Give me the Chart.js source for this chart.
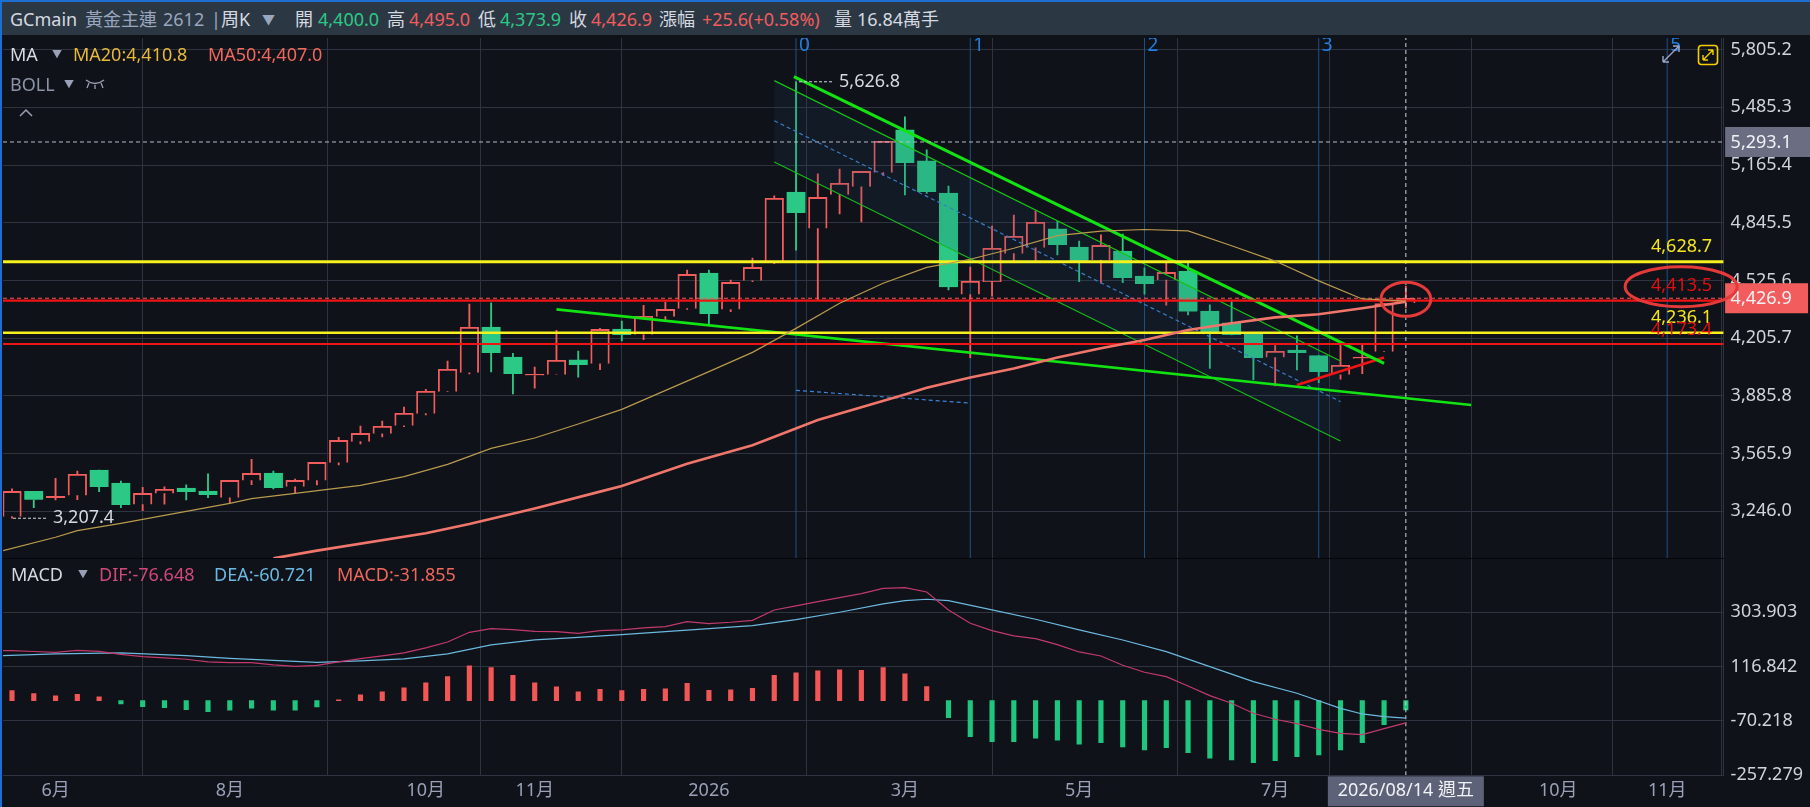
<!DOCTYPE html>
<html>
<head>
<meta charset="utf-8">
<title>GCmain</title>
<script src="https://cdn.jsdelivr.net/npm/chart.js@4/dist/chart.umd.js"></script>
<style>
html, body { margin: 0; padding: 0; width: 1810px; height: 807px; overflow: hidden; background: #0f1218; }
body { position: relative; font-family: "Noto Sans", "Noto Sans CJK TC", sans-serif; }
canvas { position: absolute; left: 0; }
#edge { position: absolute; left: 0; top: 0; width: 1810px; height: 807px; box-sizing: border-box; border-left: 2px solid #1c6fd0; border-top: 2px solid #1c6fd0; pointer-events: none; }
#split { position: absolute; left: 0; top: 558px; width: 1724px; height: 1px; background: #05070a; }
#header { position: absolute; left: 0; top: 0; width: 1810px; height: 35px; background: #2c3744; color: #d5d9e0; font-size: 18px; white-space: nowrap; }
.t { position: absolute; line-height: 24px; white-space: nowrap; }
#header .t { top: 7px; }
.gry { color: #9aa6bd; }
.grn { color: #2bc985; }
.red { color: #f25c5c; }
.legend { position: absolute; left: 0; width: 600px; height: 24px; font-size: 18px; color: #d5d9e0; }
.tri { font-size: 10px; color: #9aa0b8; }
</style>
</head>
<body>
<canvas id="priceChart" width="1810" height="520" style="top:38px"></canvas>
<canvas id="macdChart" width="1810" height="249" style="top:558px"></canvas>
<div id="split"></div>
<div id="header">
  <span class="t" style="left:10px">GCmain</span>
  <span class="t gry" style="left:85px">黃金主連</span>
  <span class="t gry" style="left:163px">2612</span>
  <span class="t gry" style="left:211px">|</span>
  <span class="t" style="left:221px">周K</span>
  <span class="t gry" style="left:262px;font-size:13px">▼</span>
  <span class="t" style="left:295px">開</span><span class="t grn" style="left:318px">4,400.0</span>
  <span class="t" style="left:387px">高</span><span class="t red" style="left:409px">4,495.0</span>
  <span class="t" style="left:478px">低</span><span class="t grn" style="left:500px">4,373.9</span>
  <span class="t" style="left:569px">收</span><span class="t red" style="left:591px">4,426.9</span>
  <span class="t" style="left:659px">漲幅</span><span class="t red" style="left:702px">+25.6(+0.58%)</span>
  <span class="t" style="left:834px">量</span><span class="t" style="left:857px">16.84萬手</span>
</div>
<div class="legend" style="top:42px">
  <span class="t" style="left:10px">MA</span><span class="t tri" style="left:52px">▼</span>
  <span class="t" style="left:73px;color:#e6b93c">MA20:4,410.8</span><span class="t" style="left:208px;color:#f0675c">MA50:4,407.0</span>
</div>
<div class="legend" style="top:72px;color:#8d94a8">
  <span class="t" style="left:10px">BOLL</span><span class="t tri" style="left:64px">▼</span>
  <svg width="20" height="12" viewBox="0 0 20 12" style="position:absolute;left:85px;top:6px"><path d="M1 2 Q10 9 19 2 M4 5 L2 10 M10 7 V11 M16 5 L18 10" stroke="#9aa0b8" fill="none" stroke-width="1.3"/></svg>
</div>
<svg style="position:absolute;left:18px;top:108px" width="16" height="10"><path d="M2 8 L8 2 L14 8" stroke="#9aa0b8" fill="none" stroke-width="1.5"/></svg>
<svg style="position:absolute;left:1661px;top:44px" width="20" height="20"><path d="M2 18 L18 2 M18 2 H12 M18 2 V8 M2 18 H8 M2 18 V12" stroke="#9aa6c8" fill="none" stroke-width="1.4"/></svg>
<svg style="position:absolute;left:1697px;top:44px" width="22" height="22"><rect x="1.5" y="1.5" width="19" height="19" rx="3" stroke="#f5d000" fill="none" stroke-width="1.6"/><path d="M6 16 L16 6 M16 6 H11 M16 6 V11 M6 16 H11 M6 16 V11" stroke="#f5d000" fill="none" stroke-width="1.4"/></svg>
<div class="legend" style="top:562px">
  <span class="t" style="left:11px">MACD</span><span class="t tri" style="left:78px">▼</span>
  <span class="t" style="left:99px;color:#d1487a">DIF:-76.648</span><span class="t" style="left:214px;color:#6cb8e0">DEA:-60.721</span><span class="t" style="left:337px;color:#f0675c">MACD:-31.855</span>
</div>
<div id="edge"></div>
<script>
// Weekly candles (index 0 = first candle on the left)
const opens = [3216,3356,3322,3333,3475,3403,3283,3344,3375,3358,3321,3416,3458,3382,3416,3515,3632,3676,3720,3787,3909,4014,4267,4101,3998,4003,4085,4064,4256,4225,4325,4369,4567,4364,4524,4630,5016,4813,5001,5045,5123,5360,5188,5010,4447,4519,4674,4707,4811,4711,4639,4689,4550,4528,4578,4356,4290,4231,4098,4140,4109,4003,4092,4131,4400];
const closes = [3356,3310,3329,3451,3381,3281,3345,3368,3353,3336,3417,3456,3375,3417,3517,3639,3678,3717,3789,3911,4033,4266,4123,4007,4005,4083,4057,4254,4223,4327,4365,4559,4340,4515,4598,4981,4899,4986,5064,5130,5297,5177,5016,4489,4521,4704,4770,4848,4722,4630,4720,4539,4506,4570,4353,4238,4223,4096,4133,4123,4018,4055,4101,4397,4426.9];
const highs = [3370,3356,3429,3469,3475,3414,3379,3381,3392,3453,3417,3534,3469,3425,3517,3656,3719,3746,3824,3922,4079,4395,4402,4122,4046,4249,4134,4260,4301,4388,4406,4583,4583,4528,4650,4994,5626.8,5116,5143,5130,5297,5432,5249,5049,4600,4827,4888,4912,4853,4744,4778,4783,4595,4626,4620,4390,4408,4231,4164,4218,4109,4171,4177,4397,4495];
const lows = [3207.4,3266,3309,3310,3355,3266,3249,3286,3309,3321,3294,3394,3370,3345,3392,3503,3619,3658,3715,3780,3909,4007,4018,3896,3929,4003,3990,4031,4190,4197,4306,4365,4275,4353,4519,4619,4694,4417,4894,4850,5108,4999,5008,4473,4098,4439,4630,4630,4667,4519,4510,4513,4450,4389,4334,4038,4223,3974,3941,4029,3959,3979,4009,4131,4373.9];

const ma20Idx = [-0.41,2,3,5,10,11,13,16,18,20,22,24,26,28,32,34,36,38,40,42,44,46,48,50,52,54,56,58,60,62,64];
const ma20Vals = [3028,3102,3139,3179,3290,3316,3345,3390,3438,3506,3595,3652,3730,3811,4020,4127,4260,4399,4510,4598,4643,4704,4774,4799,4808,4800,4718,4633,4523,4423,4410.8];
const ma50Idx = [12,14,19,21,24,27,28,31,34,37,41,42,44,46,48,50,52,54,56,58,60,62,64];
const ma50Vals = [2985,3028,3124,3175,3262,3355,3386,3510,3612,3752,3894,3931,3987,4038,4098,4150,4195,4251,4288,4321,4338,4371,4407];

const priceTicks = [5805.2,5485.3,5165.4,4845.5,4525.6,4205.7,3885.8,3565.9,3246.0];
const macdTicks = [303.903,116.842,-70.218,-257.279];

const monthIdx = [2,10,19,24,32,41,49,58,63,71,76];
const monthLabels = ['6月','8月','10月','11月','2026','3月','5月','7月','','10月','11月'];
const fibIdx = [36,44,52,60,76];
const fibLabels = ['0','1','2','3','5'];

// MACD panel
const macdHist = [34.4,24.1,16,21.8,12.6,-11.5,-20.7,-24.1,-31,-37.9,-33.3,-26.4,-33.3,-33.3,-21.8,2.5,19.5,29.8,43.6,60.8,82.6,119.4,113.6,87.2,60.8,47.1,29.8,39,34.4,39,40.2,59.7,35.6,36.7,42.5,87.2,95.3,102.2,105.6,104.4,113.6,91.8,48.2,-58.5,-124,-141.2,-141.2,-129.7,-136.6,-150.4,-144.6,-159.5,-169.9,-161.8,-179,-198.6,-204.3,-213.5,-206.6,-192.8,-187.1,-169.9,-144.6,-82.6,-31.855];
const difIdx = [-0.41,0,1,2,3,4,5,6,7,8,9,10,11,12,13,14,15,16,17,18,19,20,21,22,23,24,25,26,27,28,29,30,31,32,33,34,35,36,37,38,39,40,41,42,43,44,45,46,47,48,49,50,51,52,53,54,55,56,57,58,59,60,61,62,63,64];
const dif = [172,172,169,166.3,173.1,169.7,159.4,151,147,142.2,133,131,130.7,122.6,118.1,121.5,133,144.4,153.6,164,181.2,201.8,235.1,247.8,244.3,238.6,237.4,231.7,240.9,243.2,250,254.6,271.9,265,269.6,276.4,312,325.8,340.7,354.5,368.3,386.6,389,374,312,266.1,240.9,222.5,213.3,192.6,167.4,153.6,121.5,97.4,82.5,50.3,17,-9.4,-43.8,-64.4,-79.4,-98.9,-112.7,-117.2,-96.6,-76.648];
const deaIdx = [-0.41,2,5,8,10,12,14,16,18,20,22,24,26,28,30,32,34,36,38,40,41,42,43,45,47,49,51,53,55,57,59,61,62,63,64];
const dea = [154.8,160.5,164,154.8,145.6,138.7,131.8,136.4,143.3,160.5,191.5,208.7,217.9,227.1,237.4,247.8,258.1,278.7,304,332.7,344.2,348.8,344.2,312,279.9,243.2,208.7,168.6,116.9,65.3,25.1,-26.6,-46.1,-55.3,-60.721];

// Drawn lines on the price panel: [x index, price] at both ends
const trendDown = [[35.9,5655],[63,4066]];
const trendFlat = [[25,4365],[67,3835]];
const channelTop = [[35,5633],[61,4079]];
const channelMid = [[35,5411],[61,3854]];
const channelBot = [[35,5182],[61,3636]];
const fibBase = [[36,3916],[44,3846]];
const redRise = [[59,3946],[63,4099]];

const levelYellowHi = 4628.7;
const levelYellowLo = 4236.1;
const levelRedHi = 4413.5;
const levelRedLo = 4173.4;
const lastPrice = 4426.9;
const markPrice = 5293.1;
const topPrice = 5626.8;
const bottomPrice = 3207.4;

const RED = '#f25c5c';
const GREEN = '#2bc985';
const GRID = '#2d3440';
const AXIS_FONT = '"Noto Sans", "Noto Sans CJK TC", sans-serif';
const X_MIN = -0.413, X_MAX = 78.59, LAST = 64;
const fmt1 = v => v.toLocaleString('en-US', {minimumFractionDigits: 1, maximumFractionDigits: 1});

Chart.defaults.animation = false;
Chart.defaults.responsive = false;
Chart.defaults.devicePixelRatio = 1;
Chart.defaults.font.family = AXIS_FONT;
Chart.defaults.plugins.legend.display = false;
Chart.defaults.plugins.tooltip.enabled = false;

const toPts = arr => arr.map(p => ({x: p[0], y: p[1]}));
const zipPts = (xs, ys) => xs.map((v, i) => ({x: v, y: ys[i]}));
const lineSet = (pts, color, width, extra) => Object.assign({type: 'line', data: pts, borderColor: color, borderWidth: width, pointRadius: 0, tension: 0, order: 1}, extra || {});
const hline = (v, color, width, extra) => lineSet([{x: X_MIN, y: v}, {x: X_MAX, y: v}], color, width, extra);

const upCandle = i => closes[i] >= opens[i];
const idx = opens.map((_, i) => i);
const barSet = (pts, colorFn, thick, extra) => Object.assign({type: 'bar', data: pts, grouped: false, barThickness: thick, backgroundColor: colorFn, order: 10}, extra || {});

const priceMin = 2987.1, priceMax = 5869.4;

// price panel texts and tags, placed through the scales
const priceLabels = {
  id: 'priceLabels',
  afterDraw(chart) {
    const {ctx, scales: {x, y}, chartArea: a} = chart;
    ctx.save();
    ctx.textBaseline = 'middle';
    // fibonacci numbers
    ctx.fillStyle = '#1f7fe0';
    ctx.font = '19px ' + AXIS_FONT;
    fibIdx.forEach((f, i) => ctx.fillText(fibLabels[i], x.getPixelForValue(f) + 3, 8));
    ctx.font = '18px ' + AXIS_FONT;
    // high / low marks
    ctx.fillStyle = '#d5d9e0';
    ctx.strokeStyle = '#d5d9e0';
    ctx.lineWidth = 1;
    ctx.setLineDash([3, 2]);
    const hx = x.getPixelForValue(36), hy = y.getPixelForValue(topPrice);
    ctx.beginPath(); ctx.moveTo(hx + 3, hy); ctx.lineTo(hx + 36, hy); ctx.stroke();
    ctx.fillText(fmt1(topPrice), hx + 43, hy);
    const lx = x.getPixelForValue(0), ly = y.getPixelForValue(bottomPrice);
    ctx.beginPath(); ctx.moveTo(lx + 1, ly); ctx.lineTo(lx + 35, ly); ctx.stroke();
    ctx.fillText(fmt1(bottomPrice), lx + 41, ly);
    ctx.setLineDash([]);
    // level labels
    const lvl = [[levelYellowHi, '#f5e61e'], [levelRedHi, '#e01010'], [levelYellowLo, '#f5e61e'], [levelRedLo, '#e01010']];
    lvl.forEach(l => {
      ctx.fillStyle = l[1];
      ctx.fillText(fmt1(l[0]), 1651, y.getPixelForValue(l[0]) - 14.5);
    });
    // price tags on the axis
    const tag = (v, bg, w) => {
      const py = y.getPixelForValue(v);
      ctx.fillStyle = bg;
      ctx.fillRect(a.right + 1.5, py - 15, w, 30);
      ctx.fillStyle = '#f0f2f5';
      ctx.fillText(fmt1(v), a.right + 7, py + 1);
    };
    tag(markPrice, '#6b6e82', 85);
    tag(lastPrice, RED, 83);
    // hand drawn rings
    ctx.strokeStyle = '#e53a3a';
    ctx.lineWidth = 3;
    ctx.beginPath();
    ctx.ellipse(x.getPixelForValue(LAST), y.getPixelForValue(lastPrice) + 1, 25, 17, 0, 0, Math.PI * 2);
    ctx.stroke();
    ctx.beginPath();
    ctx.ellipse(x.getPixelForValue(76.64), y.getPixelForValue(levelRedHi) - 14, 56, 20, 0, 0, Math.PI * 2);
    ctx.stroke();
    ctx.restore();
  }
};

// fixed axis sizes so both panels share the same plot edges
const fixRight = s => { s.width = 86.4; s.paddingTop = 0; s.paddingBottom = 0; };
const fixBottom = h => s => { s.height = h; s.paddingLeft = 0; s.paddingRight = 0; };

const priceDatasets = [
  // channel fill between upper and lower rails
  lineSet(toPts(channelTop), '#16c216', 1.2, {order: 2, fill: {target: '+1'}, backgroundColor: 'rgba(40,75,120,0.14)'}),
  lineSet(toPts(channelBot), '#16c216', 1.2, {order: 2}),
  lineSet(toPts(channelMid), '#3a85d8', 1.2, {order: 2, borderDash: [4, 3]}),
  lineSet(toPts(fibBase), '#3a85d8', 1.2, {order: 2, borderDash: [4, 3]}),
  // fibonacci time lines
  ...fibIdx.map(f => lineSet([{x: f, y: priceMin}, {x: f, y: priceMax}], '#1e5288', 1, {order: 12})),
  // candles
  barSet(idx.map(i => ({x: i, y: [Math.max(opens[i], closes[i]), highs[i]]})), c => upCandle(c.dataIndex) ? RED : GREEN, 1.2),
  barSet(idx.map(i => ({x: i, y: [lows[i], Math.min(opens[i], closes[i])]})), c => upCandle(c.dataIndex) ? RED : GREEN, 1.2),
  barSet(idx.map(i => ({x: i, y: [opens[i], closes[i]]})), c => upCandle(c.dataIndex) ? 'rgba(0,0,0,0)' : GREEN, 18.6, {
    borderColor: c => upCandle(c.dataIndex) ? RED : GREEN, borderWidth: 1.2
  }),
  // moving averages
  lineSet(zipPts(ma20Idx, ma20Vals), '#b99a4e', 1.2),
  lineSet(zipPts(ma50Idx, ma50Vals), '#f0766c', 2.6),
  // horizontal levels
  hline(markPrice, '#b8bcc6', 1, {borderDash: [4, 3]}),
  hline(levelYellowHi, '#f5f01e', 3),
  hline(levelYellowLo, '#f5f01e', 2.5),
  hline(levelRedHi, '#f01414', 2.2),
  hline(levelRedLo, '#f01414', 1.8),
  hline(lastPrice, '#f25c5c', 1, {borderDash: [4, 3]}),
  // trend lines
  lineSet(toPts(trendDown), '#12e312', 3),
  lineSet(toPts(trendFlat), '#12e312', 2.6),
  lineSet(toPts(redRise), '#f01414', 2.6),
  // crosshair
  lineSet([{x: LAST, y: priceMin}, {x: LAST, y: priceMax}], '#cfd3da', 1, {borderDash: [4, 3]})
];

new Chart(document.getElementById('priceChart'), {
  type: 'bar',
  data: {datasets: priceDatasets},
  options: {
    layout: {padding: {left: 3, right: 0, top: 0, bottom: 0}},
    plugins: {filler: {propagate: false}},
    scales: {
      x: {
        type: 'linear', min: X_MIN, max: X_MAX, offset: false,
        border: {display: false},
        grid: {color: GRID, drawTicks: false, lineWidth: 1},
        ticks: {display: false, autoSkip: false},
        afterBuildTicks: s => { s.ticks = monthIdx.map(v => ({value: v})); },
        afterFit: fixBottom(0)
      },
      y: {
        position: 'right', min: priceMin, max: priceMax,
        border: {color: GRID},
        grid: {color: GRID, drawTicks: false, lineWidth: 1},
        ticks: {color: '#d0d4da', font: {size: 18}, padding: 7, autoSkip: false, callback: v => fmt1(v)},
        afterBuildTicks: s => { s.ticks = priceTicks.map(v => ({value: v})); },
        afterFit: fixRight
      }
    }
  },
  plugins: [priceLabels]
});

// date tag under the crosshair
const dateTag = {
  id: 'dateTag',
  afterDraw(chart) {
    const {ctx, scales: {x}, chartArea: a} = chart;
    const px = x.getPixelForValue(LAST);
    ctx.save();
    ctx.fillStyle = '#5e6278';
    ctx.fillRect(px - 78, a.bottom + 1, 156, 30);
    ctx.fillStyle = '#f0f2f5';
    ctx.font = '18px ' + AXIS_FONT;
    ctx.textAlign = 'center';
    ctx.textBaseline = 'middle';
    ctx.fillText('2026/08/14 週五', px, a.bottom + 16);
    ctx.restore();
  }
};

new Chart(document.getElementById('macdChart'), {
  type: 'bar',
  data: {datasets: [
    barSet(idx.map(i => ({x: i, y: [0, macdHist[i]]})), c => macdHist[c.dataIndex] >= 0 ? '#f25656' : '#1fc77e', 4.5),
    lineSet(zipPts(difIdx, dif), '#c23a6c', 1.2),
    lineSet(zipPts(deaIdx, dea), '#6cb8e0', 1.2),
    lineSet([{x: LAST, y: -257.279}, {x: LAST, y: 490.9}], '#cfd3da', 1, {borderDash: [4, 3]})
  ]},
  options: {
    layout: {padding: {left: 3, right: 0, top: 0, bottom: 0}},
    scales: {
      x: {
        type: 'linear', min: X_MIN, max: X_MAX, offset: false,
        border: {color: GRID},
        grid: {color: GRID, drawTicks: false, lineWidth: 1},
        ticks: {color: '#9aa0b8', font: {size: 18}, padding: 5, autoSkip: false, maxRotation: 0,
          callback: v => monthLabels[monthIdx.indexOf(v)]},
        afterBuildTicks: s => { s.ticks = monthIdx.map(v => ({value: v})); },
        afterFit: fixBottom(31.7)
      },
      y: {
        position: 'right', min: -257.279, max: 490.9,
        border: {color: GRID},
        grid: {color: GRID, drawTicks: false, lineWidth: 1},
        ticks: {color: '#d0d4da', font: {size: 18}, padding: 7, autoSkip: false, callback: v => v.toFixed(3)},
        afterBuildTicks: s => { s.ticks = macdTicks.map(v => ({value: v})); },
        afterFit: fixRight
      }
    }
  },
  plugins: [dateTag]
});
</script>
</body>
</html>
